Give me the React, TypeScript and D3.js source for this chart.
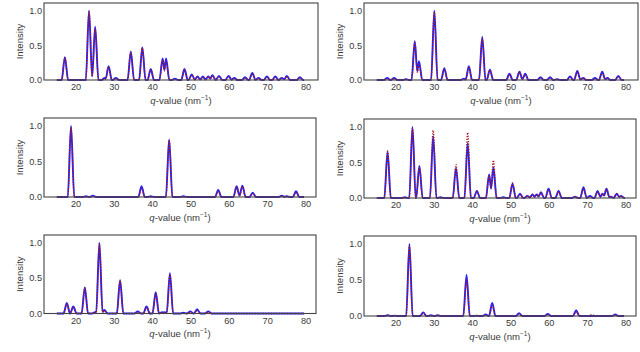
import React from "react";
import * as d3 from "d3";

// ---- data: peak positions (q, nm^-1) and intensities for each panel ----
const P1_Q = [17.1, 23.4, 25.0, 27.5, 28.5, 30.4, 34.3, 37.3, 39.5, 42.6, 43.5, 45.8, 48.3, 50.2, 51.7, 53.1, 54.5, 55.6, 57.3, 59.8, 61.3, 64.1, 66.0, 67.6, 69.8, 72.0, 73.7, 75.0, 78.4];
const P1_BLUE = [0.33, 1.0, 0.77, 0.03, 0.2, 0.03, 0.41, 0.47, 0.16, 0.31, 0.31, 0.02, 0.16, 0.08, 0.05, 0.05, 0.05, 0.07, 0.06, 0.06, 0.03, 0.04, 0.1, 0.03, 0.05, 0.05, 0.03, 0.06, 0.04];
const P1_RED = [0.32, 0.99, 0.74, 0.02, 0.19, 0.02, 0.4, 0.46, 0.15, 0.29, 0.27, 0.01, 0.15, 0.07, 0.04, 0.04, 0.05, 0.06, 0.05, 0.05, 0.02, 0.03, 0.09, 0.02, 0.04, 0.04, 0.03, 0.05, 0.03];

const P2_Q = [17.7, 19.5, 22.6, 24.9, 26.0, 30.0, 32.6, 37.7, 39.0, 42.5, 44.5, 49.6, 52.2, 53.7, 57.7, 60.2, 62.0, 65.4, 67.3, 68.8, 71.9, 73.8, 75.1, 78.0];
const P2_BLUE = [0.03, 0.03, 0.01, 0.56, 0.27, 1.0, 0.17, 0.02, 0.2, 0.62, 0.15, 0.09, 0.12, 0.09, 0.04, 0.04, 0.01, 0.05, 0.13, 0.03, 0.03, 0.12, 0.03, 0.06];
const P2_RED = [0.02, 0.02, 0.01, 0.54, 0.22, 0.98, 0.16, 0.01, 0.18, 0.6, 0.14, 0.08, 0.12, 0.08, 0.03, 0.03, 0.01, 0.04, 0.12, 0.03, 0.02, 0.11, 0.03, 0.05];

const P3_Q = [18.7, 22.6, 24.4, 37.1, 39.5, 44.3, 48.0, 57.1, 61.9, 63.4, 66.1, 73.7, 75.0, 77.4];
const P3_BLUE = [1.0, 0.01, 0.02, 0.15, 0.01, 0.81, 0.01, 0.1, 0.15, 0.16, 0.06, 0.02, 0.01, 0.08];
const P3_RED = [0.98, 0.0, 0.01, 0.13, 0.0, 0.8, 0.0, 0.09, 0.14, 0.15, 0.05, 0.01, 0.01, 0.07];

const P4_Q = [17.8, 22.3, 24.3, 26.1, 29.7, 31.6, 35.65, 38.7, 41.1, 44.3, 45.4, 48.0, 50.4, 52.35, 54.3, 55.6, 56.7, 57.8, 59.8, 62.4, 66.7, 68.9, 70.6, 72.6, 73.9, 74.9, 76.0, 77.6, 78.7];
const P4_BLUE = [0.65, 0.01, 1.0, 0.45, 0.87, 0.01, 0.42, 0.77, 0.1, 0.33, 0.43, 0.01, 0.2, 0.06, 0.03, 0.05, 0.05, 0.08, 0.13, 0.1, 0.02, 0.15, 0.03, 0.1, 0.06, 0.13, 0.02, 0.06, 0.03];
const P4_RED = [0.66, 0.0, 0.98, 0.44, 0.95, 0.0, 0.47, 0.92, 0.1, 0.32, 0.53, 0.0, 0.21, 0.05, 0.03, 0.05, 0.05, 0.07, 0.12, 0.09, 0.02, 0.14, 0.02, 0.09, 0.06, 0.13, 0.02, 0.06, 0.03];

const P5_Q = [17.6, 19.3, 22.3, 25.0, 26.1, 27.4, 31.5, 36.1, 38.4, 40.8, 42.5, 43.2, 44.5, 48.0, 49.8, 51.6, 54.5];
const P5_BLUE = [0.15, 0.1, 0.37, 0.02, 1.0, 0.05, 0.47, 0.03, 0.1, 0.3, 0.02, 0.02, 0.57, 0.01, 0.03, 0.06, 0.03];
const P5_RED = [0.14, 0.09, 0.36, 0.01, 0.99, 0.04, 0.46, 0.02, 0.09, 0.29, 0.01, 0.02, 0.55, 0.0, 0.02, 0.05, 0.02];

const P6_Q = [17.8, 19.7, 23.5, 27.1, 29.1, 30.9, 38.4, 41.0, 43.4, 45.1, 52.1, 59.6, 67.0, 71.1, 77.2];
const P6_BLUE = [0.01, 0.005, 1.0, 0.05, 0.01, 0.01, 0.57, 0.005, 0.02, 0.18, 0.04, 0.03, 0.08, 0.0, 0.02];
const P6_RED = [0.01, 0.0, 0.98, 0.04, 0.0, 0.01, 0.5, 0.0, 0.01, 0.15, 0.03, 0.02, 0.06, 0.02, 0.01];

const Q_START = 15;
const Q_END = 79.5;
const X_TICKS = [20, 30, 40, 50, 60, 70, 80];
const Y_TICKS = [0, 0.5, 1.0];

const PANELS = [
  { q: P1_Q, blue: P1_BLUE, red: P1_RED, box: [44, 3, 318, 80] },
  { q: P2_Q, blue: P2_BLUE, red: P2_RED, box: [364, 3, 638, 80] },
  { q: P3_Q, blue: P3_BLUE, red: P3_RED, box: [44, 118, 316, 197] },
  { q: P4_Q, blue: P4_BLUE, red: P4_RED, box: [364, 119, 636, 198] },
  { q: P5_Q, blue: P5_BLUE, red: P5_RED, box: [44, 235, 316, 313.5] },
  { q: P6_Q, blue: P6_BLUE, red: P6_RED, box: [364, 236, 636, 316] },
];

const HALF = 0.85; // half base width of a peak (nm^-1)

function buildPoints(qs: number[], hs: number[]): [number, number][] {
  const pts: [number, number][] = [[Q_START, 0]];
  for (let i = 0; i < qs.length; i++) {
    const q = qs[i];
    const h = hs[i];
    const L = q - HALF;
    if (i === 0 || L > qs[i - 1] + HALF) {
      pts.push([L, 0]);
    } else {
      const q1 = qs[i - 1], h1 = hs[i - 1];
      const s = h1 + h;
      if (s > 0) {
        const xm = (h1 * (q1 + HALF) + h * (q - HALF)) / s;
        const ym = Math.max(0, h1 * (1 - (xm - q1) / HALF));
        pts.push([xm, ym]);
      }
    }
    pts.push([q, h]);
    const R = q + HALF;
    if (i === qs.length - 1 || qs[i + 1] - HALF > R) {
      pts.push([R, 0]);
    }
  }
  pts.push([Q_END, 0]);
  return pts;
}

const FONT = "'Liberation Sans', Arial, sans-serif";
const TEXT = "#3a3a3a";

function Panel({ p }: { p: (typeof PANELS)[number] }) {
  const [x0, y0, x1, y1] = p.box;
  const pxPer = 230 / 60;
  const x = d3
    .scaleLinear()
    .domain([20 - 32 / pxPer, 20 + (x1 - x0 - 32) / pxPer])
    .range([x0, x1]);
  const y = d3.scaleLinear().domain([0, 1.11]).range([y1, y0]);
  const line = d3
    .line<[number, number]>()
    .x((d) => x(d[0]))
    .y((d) => y(d[1]))
    .curve(d3.curveMonotoneX);
  const blue = line(buildPoints(p.q, p.blue)) || "";
  const red = line(buildPoints(p.q, p.red)) || "";
  const cx = (x0 + x1) / 2;
  const cy = (y0 + y1) / 2;
  return (
    <g>
      <rect x={x0} y={y0} width={x1 - x0} height={y1 - y0} fill="#fff" />
      <path d={blue} fill="none" stroke="#2424ff" strokeWidth={1.9} strokeLinejoin="round" />
      <path d={red} fill="none" stroke="#a8161c" strokeWidth={1.4} strokeDasharray="1.2,1.5" />
      <rect x={x0} y={y0} width={x1 - x0} height={y1 - y0} fill="none" stroke="#444" strokeWidth={1.1} />
      {X_TICKS.map((t) => (
        <text key={t} x={x(t)} y={y1 + 10} textAnchor="middle" fontSize={9.2} fill={TEXT} fontFamily={FONT}>
          {t}
        </text>
      ))}
      {Y_TICKS.map((t) => (
        <text key={t} x={x0 - 2} y={y(t) + 3.3} textAnchor="end" fontSize={9.2} fill={TEXT} fontFamily={FONT}>
          {t.toFixed(1)}
        </text>
      ))}
      <text x={cx} y={y1 + 23.5} textAnchor="middle" fontSize={9.6} fill={TEXT} fontFamily={FONT}>
        <tspan fontStyle="italic">q</tspan>
        <tspan>-value  (nm</tspan>
        <tspan fontSize={6.5} dy={-3.8}>−1</tspan>
        <tspan dy={3.8}>)</tspan>
      </text>
      <text
        transform={`translate(${x0 - 21.5},${cy}) rotate(-90)`}
        textAnchor="middle"
        fontSize={9.6}
        fill={TEXT}
        fontFamily={FONT}
      >
        Intensity
      </text>
    </g>
  );
}

export default function App() {
  return (
    <svg
      width={640}
      height={352}
      viewBox="0 0 640 352"
      style={{ position: "absolute", left: 0, top: 0, background: "#fff" }}
    >
      <rect x={0} y={0} width={640} height={352} fill="#fff" />
      {PANELS.map((p, i) => (
        <Panel key={i} p={p} />
      ))}
    </svg>
  );
}
